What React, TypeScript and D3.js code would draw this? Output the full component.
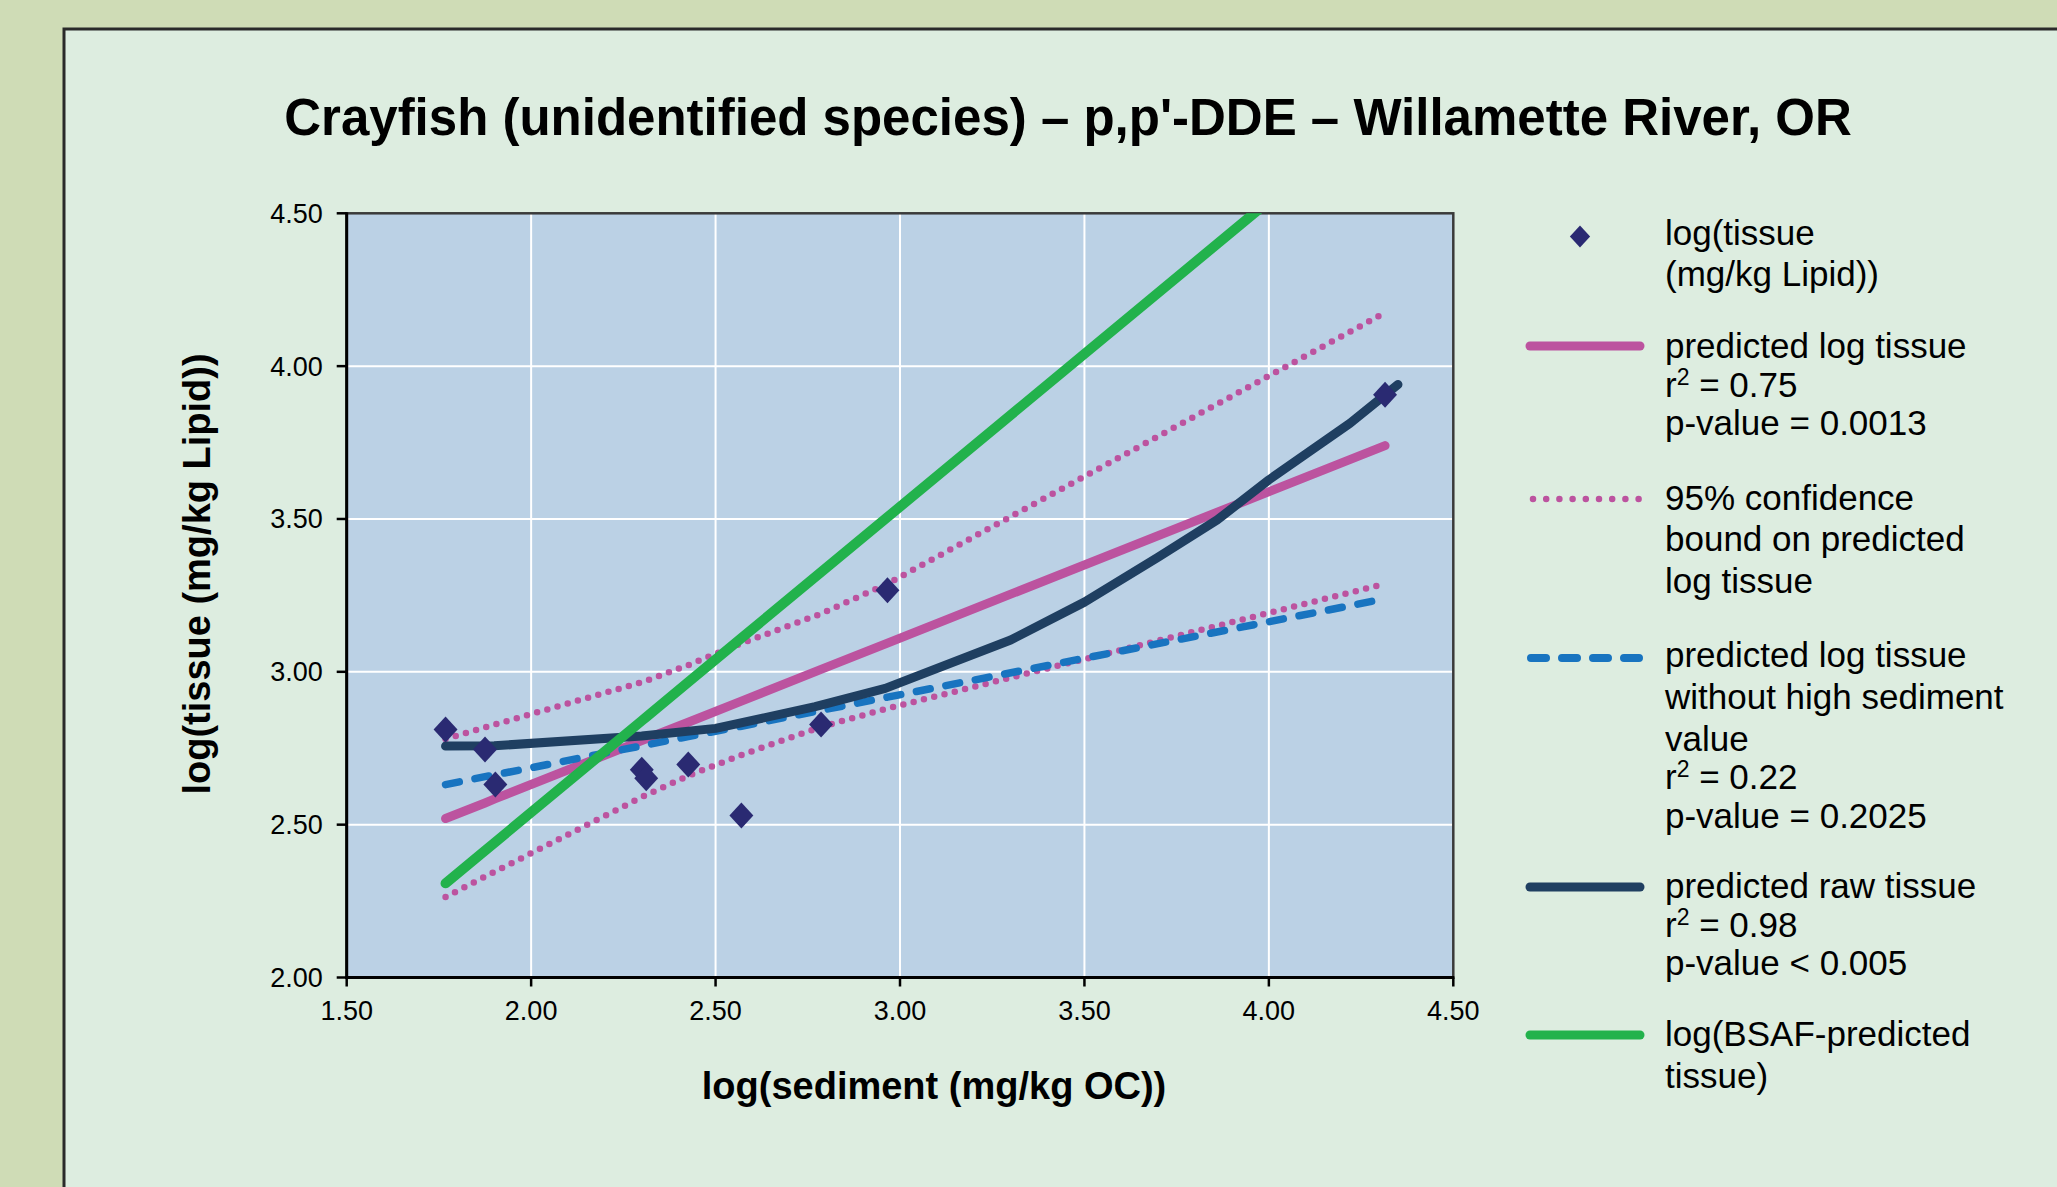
import React from "react";
import * as d3 from "d3";

// ---- data ----
const SED_X = [1.768, 1.875, 1.903, 2.3, 2.312, 2.426, 2.57, 2.786, 2.966, 4.315];
const TISSUE_Y = [2.811, 2.746, 2.631, 2.68, 2.652, 2.697, 2.53, 2.828, 3.267, 3.906];
const PRED_Y = [2.52, 2.571, 2.585, 2.775, 2.781, 2.835, 2.904, 3.008, 3.094, 3.74];
const UPPER_Y = [2.78, 2.818, 2.828, 2.966, 2.971, 3.022, 3.093, 3.19, 3.288, 4.175];
const LOWER_Y = [2.263, 2.33, 2.347, 2.59, 2.597, 2.66, 2.728, 2.82, 2.88, 3.288];
const PRED_NOHIGH_Y = [2.631, 2.657, 2.663, 2.758, 2.761, 2.788, 2.822, 2.874, 2.917, 3.239];
const BSAF_Y = [2.308, 2.415, 2.443, 2.84, 2.852, 2.966, 3.11, 3.326, 3.506, 4.855];
const RAW_X = [1.768, 1.9, 2.3, 2.5, 2.77, 2.96, 3.3, 3.5, 3.7, 3.86, 4.0, 4.22, 4.35];
const RAW_Y = [2.757, 2.758, 2.79, 2.815, 2.886, 2.946, 3.104, 3.228, 3.375, 3.497, 3.628, 3.813, 3.94];
const X_TICKS = [1.5, 2.0, 2.5, 3.0, 3.5, 4.0, 4.5];
const Y_TICKS = [2.0, 2.5, 3.0, 3.5, 4.0, 4.5];

const FONT = "'Liberation Sans', Arial, Helvetica, sans-serif";
const PINK = "#bc539f";
const NAVY = "#1f3f61";
const BLUE = "#1874c0";
const GREEN = "#22b24c";
const DIAMOND = "#2a2a72";

const W = 2057;
const H = 1187;
const L = 346.7, R = 1453.3, T = 213.3, B = 977.5;

export default function App() {
  const x = d3.scaleLinear().domain([1.5, 4.5]).range([L, R]);
  const y = d3.scaleLinear().domain([2, 4.5]).range([B, T]);
  const line = d3
    .line<[number, number]>()
    .x((d) => x(d[0]))
    .y((d) => y(d[1]));
  const zip = (xs: number[], ys: number[]) => xs.map((v, i) => [v, ys[i]] as [number, number]);

  const diamond = (cx: number, cy: number, r: number) =>
    `M${cx},${cy - r} L${cx + r * 0.92},${cy} L${cx},${cy + r} L${cx - r * 0.92},${cy} Z`;

  const legX = 1665;
  const lx1 = 1526, lx2 = 1644;
  const fs = 35;

  const sup = (pre: string, post: string, yy: number) => (
    <text x={legX} y={yy} fontSize={fs} fontFamily={FONT} fill="#000">
      <tspan>{pre}</tspan>
      <tspan dy={-12} fontSize={23}>2</tspan>
      <tspan dy={12}>{post}</tspan>
    </text>
  );
  const txt = (s: string, yy: number) => (
    <text x={legX} y={yy} fontSize={fs} fontFamily={FONT} fill="#000">
      {s}
    </text>
  );

  return (
    <svg
      width={W}
      height={H}
      style={{ position: "absolute", left: 0, top: 0 }}
      xmlns="http://www.w3.org/2000/svg"
    >
      <defs>
        <clipPath id="plotclip">
          <rect x={L} y={T} width={R - L} height={B - T} />
        </clipPath>
      </defs>
      <rect x={0} y={0} width={W} height={H} fill="#cfdcb6" />
      <rect x={64} y={29} width={W + 20} height={H + 20} fill="#ddede0" stroke="#2a2a2a" strokeWidth={3} />

      {/* title */}
      <text x={1068} y={135} textAnchor="middle" fontSize={51} fontWeight="bold" fontFamily={FONT} fill="#000">
        Crayfish (unidentified species) – p,p'-DDE – Willamette River, OR
      </text>

      {/* plot area */}
      <rect x={L} y={T} width={R - L} height={B - T} fill="#bbd1e5" />
      {X_TICKS.slice(1, -1).map((t) => (
        <line key={"gx" + t} x1={x(t)} x2={x(t)} y1={T} y2={B} stroke="#fff" strokeWidth={2} />
      ))}
      {Y_TICKS.slice(1, -1).map((t) => (
        <line key={"gy" + t} x1={L} x2={R} y1={y(t)} y2={y(t)} stroke="#fff" strokeWidth={2} />
      ))}
      <rect x={L} y={T} width={R - L} height={B - T} fill="none" stroke="#3a3a3a" strokeWidth={2.5} />

      <g clipPath="url(#plotclip)" fill="none" strokeLinecap="round" strokeLinejoin="round">
        <path d={line(zip(SED_X, UPPER_Y)) || ""} stroke={PINK} strokeWidth={6.5} strokeDasharray="0 10.6" />
        <path d={line(zip(SED_X, LOWER_Y)) || ""} stroke={PINK} strokeWidth={6.5} strokeDasharray="0 10.6" />
        <path d={line(zip(SED_X, PRED_Y)) || ""} stroke={PINK} strokeWidth={9} />
        <path d={line(zip(SED_X, PRED_NOHIGH_Y)) || ""} stroke={BLUE} strokeWidth={7.5} strokeDasharray="14 16" />
        <path d={line(zip(RAW_X, RAW_Y)) || ""} stroke={NAVY} strokeWidth={9} />
        <path d={line(zip(SED_X, BSAF_Y)) || ""} stroke={GREEN} strokeWidth={10} />
      </g>
      {SED_X.map((v, i) => (
        <path key={"pt" + i} d={diamond(x(v), y(TISSUE_Y[i]), 13)} fill={DIAMOND} />
      ))}

      {/* axes */}
      <line x1={L} x2={L} y1={T - 1} y2={B + 1.5} stroke="#000" strokeWidth={3} />
      <line x1={L - 1.5} x2={R + 1} y1={B} y2={B} stroke="#000" strokeWidth={3} />
      {Y_TICKS.map((t) => (
        <g key={"yt" + t}>
          <line x1={L - 10} x2={L} y1={y(t)} y2={y(t)} stroke="#000" strokeWidth={2.5} />
          <text x={322.7} y={y(t) + 9.5} textAnchor="end" fontSize={27} fontFamily={FONT} fill="#000">
            {t.toFixed(2)}
          </text>
        </g>
      ))}
      {X_TICKS.map((t) => (
        <g key={"xt" + t}>
          <line x1={x(t)} x2={x(t)} y1={B} y2={B + 9} stroke="#000" strokeWidth={2.5} />
          <text x={x(t)} y={1020} textAnchor="middle" fontSize={27} fontFamily={FONT} fill="#000">
            {t.toFixed(2)}
          </text>
        </g>
      ))}

      <text x={934} y={1099} textAnchor="middle" fontSize={38} fontWeight="bold" fontFamily={FONT} fill="#000">
        log(sediment (mg/kg OC))
      </text>
      <text
        transform="translate(210,574) rotate(-90)"
        textAnchor="middle"
        fontSize={38}
        fontWeight="bold"
        fontFamily={FONT}
        fill="#000"
      >
        log(tissue (mg/kg Lipid))
      </text>

      {/* legend */}
      <path d={diamond(1580, 236.5, 11)} fill={DIAMOND} />
      {txt("log(tissue", 245)}
      {txt("(mg/kg Lipid))", 286)}

      <line x1={lx1 + 4} x2={lx2 - 4} y1={346} y2={346} stroke={PINK} strokeWidth={9} strokeLinecap="round" />
      {txt("predicted log tissue", 358)}
      {sup("r", " = 0.75", 397)}
      {txt("p-value = 0.0013", 435)}

      <line x1={lx1 + 7} x2={lx2} y1={499} y2={499} stroke={PINK} strokeWidth={6.5} strokeLinecap="round" strokeDasharray="0 13.2" />
      {txt("95% confidence", 510)}
      {txt("bound on predicted", 551)}
      {txt("log tissue", 593)}

      <line x1={lx1 + 5} x2={lx2} y1={658} y2={658} stroke={BLUE} strokeWidth={8} strokeLinecap="round" strokeDasharray="15 16" />
      {txt("predicted log tissue", 667)}
      {txt("without high sediment", 709)}
      {txt("value", 751)}
      {sup("r", " = 0.22", 789)}
      {txt("p-value = 0.2025", 828)}

      <line x1={lx1 + 4} x2={lx2 - 4} y1={887} y2={887} stroke={NAVY} strokeWidth={9} strokeLinecap="round" />
      {txt("predicted raw tissue", 898)}
      {sup("r", " = 0.98", 937)}
      {txt("p-value < 0.005", 975)}

      <line x1={lx1 + 4} x2={lx2 - 4} y1={1035} y2={1035} stroke={GREEN} strokeWidth={9} strokeLinecap="round" />
      {txt("log(BSAF-predicted", 1046)}
      {txt("tissue)", 1088)}
    </svg>
  );
}
